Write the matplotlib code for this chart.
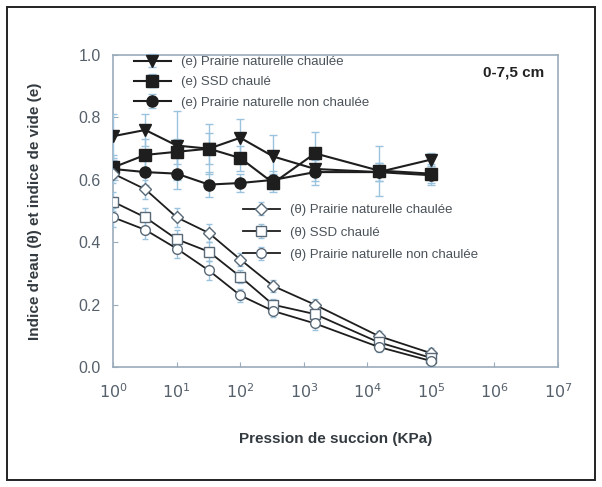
import matplotlib

matplotlib.use("Agg")
import matplotlib.pyplot as plt
from matplotlib.patches import Rectangle

plt.rcParams["font.family"] = ["Liberation Sans", "DejaVu Sans"]

# succion (KPa)
succion = [1, 3.2, 10, 32, 100, 330, 1500, 15000, 100000]

# indice de vide (e)
e_pn_chaulee = [0.74, 0.76, 0.71, 0.70, 0.735, 0.675, 0.635, 0.625, 0.665]
e_ssd_chaule = [0.64, 0.68, 0.69, 0.70, 0.67, 0.59, 0.685, 0.63, 0.62]
e_pn_non = [0.635, 0.625, 0.62, 0.585, 0.59, 0.60, 0.625, 0.625, 0.615]
err_e_pn_chaulee = [0.07, 0.05, 0.11, 0.08, 0.06, 0.07, 0.04, 0.03, 0.02]
err_e_ssd = [0.04, 0.05, 0.04, 0.05, 0.04, 0.03, 0.07, 0.08, 0.03]
err_e_non = [0.03, 0.04, 0.05, 0.04, 0.03, 0.03, 0.04, 0.03, 0.03]

# indice d'eau (theta)
t_pn_chaulee = [0.62, 0.57, 0.48, 0.43, 0.345, 0.26, 0.20, 0.10, 0.045]
t_ssd_chaule = [0.53, 0.48, 0.41, 0.37, 0.29, 0.20, 0.17, 0.08, 0.03]
t_pn_non = [0.48, 0.44, 0.38, 0.31, 0.23, 0.18, 0.14, 0.065, 0.02]
err_t = [0.03, 0.03, 0.03, 0.03, 0.02, 0.02, 0.02, 0.015, 0.015]

x_ticks = [1, 10, 100, 1e3, 1e4, 1e5, 1e6, 1e7]
x_labels = [r"$10^{%d}$" % i for i in range(8)]
y_ticks = [0.0, 0.2, 0.4, 0.6, 0.8, 1.0]

line_col = "#1e1e1e"
err_col = "#9cc3de"
frame_col = "#9aabba"
text_col = "#55606b"

fig = plt.figure(figsize=(6.02, 4.87), dpi=100)
fig.patches.append(Rectangle((0.012, 0.014), 0.976, 0.972, transform=fig.transFigure,
                             fill=False, edgecolor="#222222", linewidth=1.4))
ax = fig.add_axes([0.188, 0.246, 0.739, 0.641])

kw = dict(color=line_col, linewidth=1.5, markersize=8, ecolor=err_col,
          elinewidth=1.0, capsize=3, zorder=3)
h1 = ax.errorbar(succion, e_pn_chaulee, yerr=err_e_pn_chaulee, marker="v", mfc=line_col, **kw)
h2 = ax.errorbar(succion, e_ssd_chaule, yerr=err_e_ssd, marker="s", mfc=line_col, **kw)
h3 = ax.errorbar(succion, e_pn_non, yerr=err_e_non, marker="o", mfc=line_col, **kw)

kw2 = dict(color=line_col, linewidth=1.3, markersize=7, mfc="white", mec="#5a6a78",
           ecolor=err_col, elinewidth=1.0, capsize=2, zorder=3)
h4 = ax.errorbar(succion, t_pn_chaulee, yerr=err_t, marker="D", **{**kw2, "markersize": 6})
h5 = ax.errorbar(succion, t_ssd_chaule, yerr=err_t, marker="s", **kw2)
h6 = ax.errorbar(succion, t_pn_non, yerr=err_t, marker="o", **kw2)

ax.set_xscale("log")
ax.set_xlim(1, 1e7)
ax.set_ylim(0, 1.0)
ax.set_xticks(x_ticks)
ax.set_xticklabels(x_labels)
ax.minorticks_off()
ax.set_yticks(y_ticks)
ax.set_yticklabels([f"{v:.1f}" for v in y_ticks])
ax.tick_params(direction="in", colors=frame_col, labelcolor=text_col, labelsize=11.5)
ax.tick_params(axis="x", pad=11)
ax.tick_params(axis="y", pad=9)
for s in ax.spines.values():
    s.set_color(frame_col)
    s.set_linewidth(1.2)

ax.set_xlabel("Pression de succion (KPa)", fontsize=11, fontweight="bold", color="#333a40", labelpad=22)
ax.set_ylabel("Indice d'eau (θ) et indice de vide (e)", fontsize=11, fontweight="bold",
              color="#333a40", labelpad=26)

ax.text(0.97, 0.945, "0-7,5 cm", transform=ax.transAxes, ha="right", va="center",
        fontsize=11, fontweight="bold", color="#222222")

leg1 = ax.legend([h1, h2, h3],
                 ["(e) Prairie naturelle chaulée", "(e) SSD chaulé", "(e) Prairie naturelle non chaulée"],
                 loc="upper left", bbox_to_anchor=(0.02, 1.035), frameon=False, fontsize=9.5,
                 labelspacing=0.6, handlelength=2.8, labelcolor="#4a5259")
ax.add_artist(leg1)
ax.legend([h4, h5, h6],
          ["(θ) Prairie naturelle chaulée", "(θ) SSD chaulé", "(θ) Prairie naturelle non chaulée"],
          loc="upper left", bbox_to_anchor=(0.265, 0.56), frameon=False, fontsize=9.5,
          labelspacing=0.75, handlelength=2.8, labelcolor="#4a5259")

fig.savefig("out.png", dpi=100)
